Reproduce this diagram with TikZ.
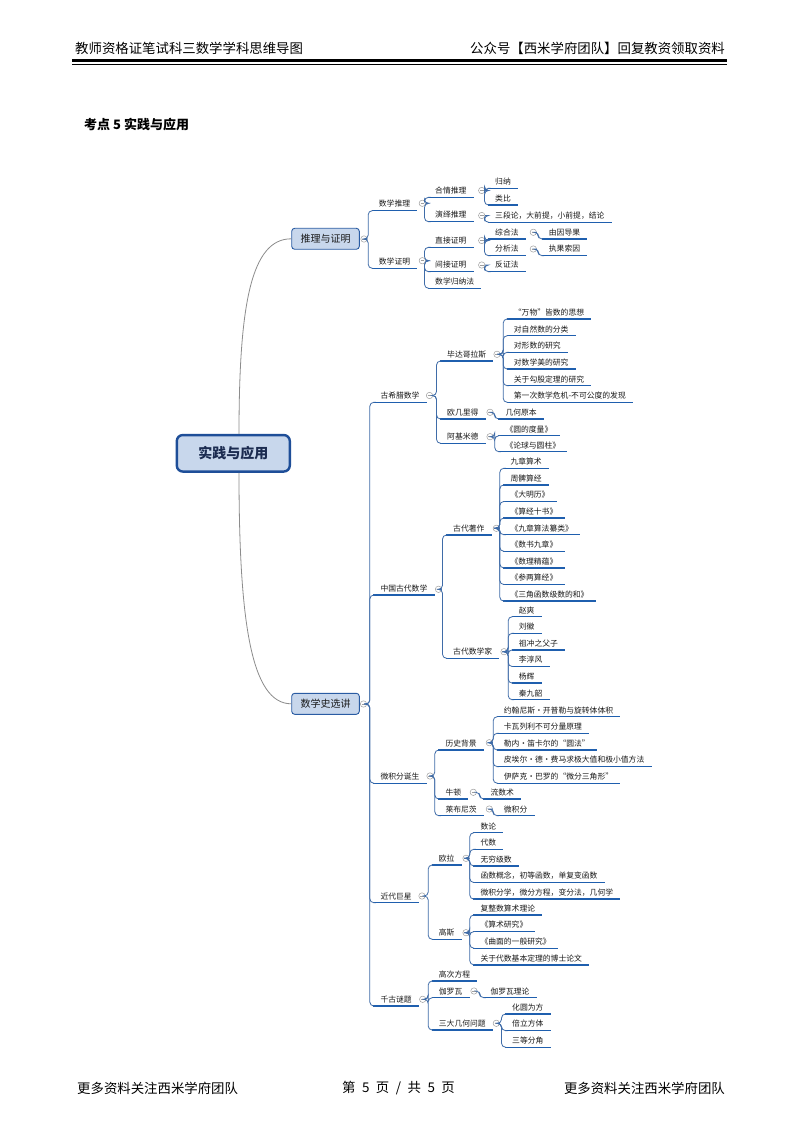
\documentclass[tikz,border=0pt]{standalone}
\usepackage{fontspec}
\setmainfont{Noto Sans CJK SC}
\usetikzlibrary{calc}
\definecolor{ulc}{HTML}{1F5FAE}
\definecolor{cnc}{HTML}{3F6CA8}
\definecolor{boxf}{HTML}{C8D7EC}
\definecolor{boxd}{HTML}{2A5CA3}
\definecolor{rootd}{HTML}{1E4E98}
\definecolor{roott}{HTML}{1B2B50}
\definecolor{txt}{HTML}{1A1A1A}
\definecolor{rcurve}{HTML}{8C8C8C}
\newcommand\lk[2]{\draw[conn] (#1.east) -| ([xshift=-3.5pt]#2.south west) -- (#2.south west);}
\newcommand\fgap{\hspace{6.5pt}}
\begin{document}
\begin{tikzpicture}[x=1pt,y=-1pt,
  t/.style={anchor=south west, text=txt, font=\fontsize{7.8}{9}\selectfont, inner xsep=7pt, inner ysep=2.3pt, text height=6.4pt, text depth=1.2pt,
    append after command={(\tikzlastnode.south west) edge[draw=ulc,line width=1.4pt] (\tikzlastnode.south east)}},
  cc/.style={circle, draw=gray!75, line width=0.5pt, minimum size=6.4pt, inner sep=0pt, fill=white,
    path picture={\draw[gray!75, line width=0.5pt] ([xshift=-1.8pt]path picture bounding box.center) -- ([xshift=1.8pt]path picture bounding box.center);}},
  conn/.style={draw=cnc, line width=0.8pt, rounded corners=4pt},
  rootc/.style={draw=rcurve, line width=0.8pt},
  bx/.style={draw=boxd, fill=boxf, line width=0.9pt, rounded corners=3pt, minimum width=67.6pt, minimum height=21pt, inner sep=0pt, font=\fontsize{10}{12}\selectfont, text=txt},
  rootbox/.style={draw=rootd, fill=boxf, line width=2.4pt, rounded corners=6pt, minimum width=113pt, minimum height=36.5pt, inner sep=0pt, font=\bfseries\fontsize{14}{16}\selectfont, text=roott},
  hd/.style={inner sep=0pt, font=\fontsize{13.4}{15}\selectfont, text=black}
]
\fill[white] (0,0) rectangle (800,1131);
\useasboundingbox (0,0) rectangle (800,1131);

% header and footer
\node[hd, anchor=west] (hl) at (75,48) {教师资格证笔试科三数学学科思维导图};
\node[hd, anchor=east] (hr) at (725,48) {公众号【西米学府团队】回复教资领取资料};
\draw[line width=2.6pt] (72,60.5) -- (727,60.5);
\draw[line width=0.9pt] (72,64.8) -- (727,64.8);
\node[hd, anchor=west, font=\bfseries\fontsize{13}{15}\selectfont] (title) at (84,125) {考点 5 实践与应用};
\node[hd, anchor=west] (fl) at (77,1088) {更多资料关注西米学府团队};
\node[hd] (fc) at (398.5,1088) {第\fgap 5\fgap 页\fgap /\fgap 共\fgap 5\fgap 页};
\node[hd, anchor=east] (fr) at (725,1088) {更多资料关注西米学府团队};

% root and main boxes
\node[rootbox] (root) at (233.3,453.3) {实践与应用};
\node[bx] (b1) at (325.5,238.8) {推理与证明};
\node[bx] (b2) at (325.5,703.8) {数学史选讲};
\node[cc] (cb1) at (364,239) {};
\node[cc] (cb2) at (363.5,704) {};
\draw[rootc] ([xshift=5.7pt]root.north) .. controls +(0,-130) and +(-40,0) .. (b1.west);
\draw[rootc] ([xshift=5.7pt]root.south) .. controls +(0,150) and +(-40,0) .. (b2.west);

% ---- 推理与证明 ----
\node[t] (n1) at (371.7,210.7) {数学推理};
\node[cc] (cn1) at (422.3,203.3) {};
\node[t] (n2) at (371.7,268.3) {数学证明};
\node[cc] (cn2) at (422.3,260.7) {};
\node[t] (n11) at (428,197.3) {合情推理};
\node[cc] (cn11) at (481.7,190.5) {};
\node[t] (n111) at (488,188.3) {归纳};
\node[t] (n112) at (488,205) {类比};
\node[t] (n12) at (428,221.7) {演绎推理};
\node[cc] (cn12) at (481.7,215.5) {};
\node[t] (n121) at (488,222.3) {三段论，大前提，小前提，结论};
\node[t] (n21) at (428,247.3) {直接证明};
\node[cc] (cn21) at (481.7,240.5) {};
\node[t] (n211) at (488,239) {综合法};
\node[cc] (cn211) at (533.3,232.3) {};
\node[t] (n2111) at (541.7,239) {由因导果};
\node[t] (n212) at (488,255.7) {分析法};
\node[cc] (cn212) at (533.3,249) {};
\node[t] (n2121) at (541.7,255.7) {执果索因};
\node[t] (n22) at (428,271.7) {间接证明};
\node[cc] (cn22) at (481.7,265) {};
\node[t] (n221) at (488,271.7) {反证法};
\node[t] (n23) at (428,288.3) {数学归纳法};

\lk{cb1}{n1} \lk{cb1}{n2}
\lk{cn1}{n11} \lk{cn1}{n12}
\lk{cn11}{n111} \lk{cn11}{n112}
\lk{cn12}{n121}
\lk{cn2}{n21} \lk{cn2}{n22} \lk{cn2}{n23}
\lk{cn21}{n211} \lk{cn21}{n212}
\lk{cn211}{n2111} \lk{cn212}{n2121}
\lk{cn22}{n221}

% ---- 数学史选讲 ----
% 古希腊数学
\node[t] (m1) at (373.3,402.3) {古希腊数学};
\node[cc] (cm1) at (429.5,395.5) {};
\node[t] (m11) at (440,361) {毕达哥拉斯};
\node[cc] (cm11) at (497,354.3) {};
\node[t] (m111) at (506.7,319) {“万物”皆数的思想};
\node[t] (m112) at (506.7,335.7) {对自然数的分类};
\node[t] (m113) at (506.7,352.3) {对形数的研究};
\node[t] (m114) at (506.7,369) {对数学美的研究};
\node[t] (m115) at (506.7,385.7) {关于勾股定理的研究};
\node[t] (m116) at (506.7,402.3) {第一次数学危机-不可公度的发现};
\node[t] (m12) at (440,419) {欧几里得};
\node[cc] (cm12) at (490,412.3) {};
\node[t] (m121) at (498.3,419) {几何原本};
\node[t] (m13) at (440,443.3) {阿基米德};
\node[cc] (cm13) at (490,436.7) {};
\node[t] (m131) at (498.3,435.7) {《圆的度量》};
\node[t] (m132) at (498.3,451.7) {《论球与圆柱》};

% 中国古代数学
\node[t] (m2) at (373.3,595) {中国古代数学};
\node[cc] (cm2) at (438.5,589.3) {};
\node[t] (m21) at (446,535) {古代著作};
\node[cc] (cm21) at (496.3,528.3) {};
\node[t] (m211) at (503.3,468.3) {九章算术};
\node[t] (m212) at (503.3,484.9) {周髀算经};
\node[t] (m213) at (503.3,501.5) {《大明历》};
\node[t] (m214) at (503.3,518.1) {《算经十书》};
\node[t] (m215) at (503.3,534.7) {《九章算法纂类》};
\node[t] (m216) at (503.3,551.3) {《数书九章》};
\node[t] (m217) at (503.3,567.9) {《数理精蕴》};
\node[t] (m218) at (503.3,584.5) {《参两算经》};
\node[t] (m219) at (503.3,601.1) {《三角函数级数的和》};
\node[t] (m22) at (446,658.3) {古代数学家};
\node[cc] (cm22) at (504,651.7) {};
\node[t] (m221) at (511.7,616.7) {赵爽};
\node[t] (m222) at (511.7,633.3) {刘徽};
\node[t] (m223) at (511.7,649.9) {祖冲之父子};
\node[t] (m224) at (511.7,666.5) {李淳风};
\node[t] (m225) at (511.7,683.1) {杨辉};
\node[t] (m226) at (511.7,699.7) {秦九韶};

% 微积分诞生
\node[t] (m3) at (373.3,783.3) {微积分诞生};
\node[cc] (cm3) at (430,776) {};
\node[t] (m31) at (438.3,750) {历史背景};
\node[cc] (cm31) at (489.3,742.7) {};
\node[t] (m311) at (496.7,716.7) {约翰尼斯·开普勒与旋转体体积};
\node[t] (m312) at (496.7,733.3) {卡瓦列利不可分量原理};
\node[t] (m313) at (496.7,750) {勒内·笛卡尔的“圆法”};
\node[t] (m314) at (496.7,766.6) {皮埃尔·德·费马求极大值和极小值方法};
\node[t] (m315) at (496.7,783.2) {伊萨克·巴罗的“微分三角形”};
\node[t] (m32) at (438.3,799) {牛顿};
\node[cc] (cm32) at (473.3,792.3) {};
\node[t] (m321) at (483.3,799) {流数术};
\node[t] (m33) at (438.3,815.7) {莱布尼茨};
\node[cc] (cm33) at (489.3,809) {};
\node[t] (m331) at (496.7,815.7) {微积分};

% 近代巨星
\node[t] (m4) at (373.3,902.7) {近代巨星};
\node[cc] (cm4) at (422,896) {};
\node[t] (m41) at (431.7,865) {欧拉};
\node[cc] (cm41) at (466,858.3) {};
\node[t] (m411) at (473.3,832.7) {数论};
\node[t] (m412) at (473.3,849.3) {代数};
\node[t] (m413) at (473.3,865.9) {无穷级数};
\node[t] (m414) at (473.3,882.5) {函数概念，初等函数，单复变函数};
\node[t] (m415) at (473.3,899.1) {微积分学，微分方程，变分法，几何学};
\node[t] (m42) at (431.7,939.3) {高斯};
\node[cc] (cm42) at (466,932.7) {};
\node[t] (m421) at (473.3,915) {复整数算术理论};
\node[t] (m422) at (473.3,931.6) {《算术研究》};
\node[t] (m423) at (473.3,948.2) {《曲面的一般研究》};
\node[t] (m424) at (473.3,964.8) {关于代数基本定理的博士论文};

% 千古谜题
\node[t] (m5) at (373.3,1006) {千古谜题};
\node[cc] (cm5) at (422.7,999.3) {};
\node[t] (m51) at (431.7,981) {高次方程};
\node[t] (m52) at (431.7,997.7) {伽罗瓦};
\node[cc] (cm52) at (474,991) {};
\node[t] (m521) at (483.3,997.7) {伽罗瓦理论};
\node[t] (m53) at (431.7,1030) {三大几何问题};
\node[cc] (cm53) at (496.3,1023.3) {};
\node[t] (m531) at (505,1014) {化圆为方};
\node[t] (m532) at (505,1030.6) {倍立方体};
\node[t] (m533) at (505,1047.2) {三等分角};

\lk{cb2}{m1} \lk{cb2}{m2} \lk{cb2}{m3} \lk{cb2}{m4} \lk{cb2}{m5}
\lk{cm1}{m11} \lk{cm1}{m12} \lk{cm1}{m13}
\foreach \k in {1,...,6} {\lk{cm11}{m11\k}}
\lk{cm12}{m121}
\lk{cm13}{m131} \lk{cm13}{m132}
\lk{cm2}{m21} \lk{cm2}{m22}
\foreach \k in {1,...,9} {\lk{cm21}{m21\k}}
\foreach \k in {1,...,6} {\lk{cm22}{m22\k}}
\lk{cm3}{m31} \lk{cm3}{m32} \lk{cm3}{m33}
\foreach \k in {1,...,5} {\lk{cm31}{m31\k}}
\lk{cm32}{m321} \lk{cm33}{m331}
\lk{cm4}{m41} \lk{cm4}{m42}
\foreach \k in {1,...,5} {\lk{cm41}{m41\k}}
\foreach \k in {1,...,4} {\lk{cm42}{m42\k}}
\lk{cm5}{m51} \lk{cm5}{m52} \lk{cm5}{m53}
\lk{cm52}{m521}
\foreach \k in {1,...,3} {\lk{cm53}{m53\k}}
\end{tikzpicture}
\end{document}
